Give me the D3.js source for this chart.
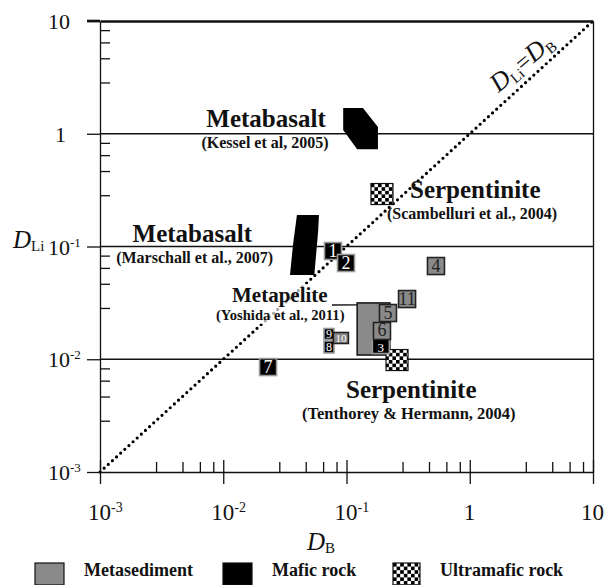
<!DOCTYPE html>
<html lang="en">
<head>
<meta charset="utf-8">
<title>DLi vs DB</title>
<script src="https://d3js.org/d3.v7.min.js"></script>
<style>
body{margin:0;background:#fff;}
svg{font-family:"Liberation Serif","Times New Roman",serif;}
</style>
</head>
<body>
<div id="chart"></div>
<script>
// axis ticks
var decades = [1e-3, 1e-2, 1e-1, 1, 10]
var minorSteps = [2.85, 4.67, 6.46, 8.3]
var refLines = [1, 0.1, 0.01]

// numbered sample boxes
var boxLabels = ["1", "2", "7", "9", "8", "10", "11", "4", "3", "6", "5"]
var boxDB = [0.0777, 0.0991, 0.0231, 0.0721, 0.0721, 0.0901, 0.310, 0.532, 0.190, 0.194, 0.217]
var boxDLi = [0.0912, 0.0714, 0.00853, 0.01675, 0.01285, 0.01544, 0.0342, 0.0671, 0.0131, 0.0178, 0.0257]
var boxRock = ["mafic", "mafic", "mafic", "mafic", "mafic", "sed", "sed", "sed", "mafic", "sed", "sed"]

// mafic fields
var kesselDB = [0.094, 0.136, 0.18, 0.18, 0.122, 0.094]
var kesselDLi = [1.69, 1.69, 1.15, 0.73, 0.73, 1.08]
var marschallDB = [0.0396, 0.0598, 0.0588, 0.0548, 0.0348, 0.0368]
var marschallDLi = [0.19, 0.19, 0.1345, 0.0559, 0.0559, 0.103]

// metapelite field
var yoshidaDB = [0.122, 0.225]
var yoshidaDLi = [0.0109, 0.0316]

// serpentinite points
var serpDB = [0.194, 0.257]
var serpDLi = [0.292, 0.00984]

var legendNames = ["Metasediment", "Mafic rock", "Ultramafic rock"]

var W = 606, H = 585
var svg = d3.select("#chart").append("svg").attr("width", W).attr("height", H)

var x = d3.scaleLog().domain([1e-3, 10]).range([100, 593])
var y = d3.scaleLog().domain([1e-3, 10]).range([472, 21])

var defs = svg.append("defs")
var pat = defs.append("pattern").attr("id", "checker")
    .attr("patternUnits", "userSpaceOnUse").attr("width", 7.2).attr("height", 7.2)
pat.append("rect").attr("width", 7.2).attr("height", 7.2).attr("fill", "#fff")
pat.append("rect").attr("width", 3.6).attr("height", 3.6).attr("fill", "#000")
pat.append("rect").attr("x", 3.6).attr("y", 3.6).attr("width", 3.6).attr("height", 3.6).attr("fill", "#000")

var minorVals = []
decades.slice(0, -1).forEach(function(d){
  minorSteps.forEach(function(m){ minorVals.push(d * m) })
})

// horizontal reference lines
svg.selectAll(".ref").data(refLines).enter().append("line")
   .attr("x1", x(1e-3)).attr("x2", x(10))
   .attr("y1", function(d){ return y(d) }).attr("y2", function(d){ return y(d) })
   .attr("stroke", "#111").attr("stroke-width", 1.3)

// 1:1 line
svg.append("line")
   .attr("x1", x(1e-3)).attr("y1", y(1e-3))
   .attr("x2", x(10)).attr("y2", y(10))
   .attr("stroke", "#000").attr("stroke-width", 3.2)
   .attr("stroke-linecap", "round").attr("stroke-dasharray", "0 5.6")

function styleAxis(g, w){
  g.style("color", "#111")
  g.selectAll("path, line").attr("stroke-width", w)
}

// bottom axis
var gxb = svg.append("g").attr("transform", "translate(0," + y(1e-3) + ")")
   .call(d3.axisBottom(x).tickValues(decades).tickSize(12).tickSizeOuter(0).tickFormat(""))
styleAxis(gxb, 1.3)
var gxt = svg.append("g").attr("transform", "translate(0," + y(1e-3) + ")")
   .call(d3.axisTop(x).tickValues(decades).tickSize(12).tickSizeOuter(0).tickFormat(""))
gxt.select(".domain").remove()
styleAxis(gxt, 1.3)
var gxm = svg.append("g").attr("transform", "translate(0," + y(1e-3) + ")")
   .call(d3.axisTop(x).tickValues(minorVals).tickSize(10).tickSizeOuter(0).tickFormat(""))
gxm.select(".domain").remove()
styleAxis(gxm, 1.3)

// left axis
var gyl = svg.append("g").attr("transform", "translate(" + x(1e-3) + ",0)")
   .call(d3.axisLeft(y).tickValues(decades).tickSize(13).tickSizeOuter(0).tickFormat(""))
styleAxis(gyl, 1.3)
var gym = svg.append("g").attr("transform", "translate(" + x(1e-3) + ",0)")
   .call(d3.axisRight(y).tickValues(minorVals).tickSize(10).tickSizeOuter(0).tickFormat(""))
gym.select(".domain").remove()
styleAxis(gym, 1.3)

// right and top frame
var gr = svg.append("g").attr("transform", "translate(" + x(10) + ",0)")
   .call(d3.axisRight(y).tickValues([]).tickSizeOuter(0))
styleAxis(gr, 1.3)
var gt = svg.append("g").attr("transform", "translate(0," + y(10) + ")")
   .call(d3.axisTop(x).tickValues([]).tickSizeOuter(0))
styleAxis(gt, 2.6)
svg.append("line").attr("x1", x(1e-3) - 13).attr("x2", x(1e-3))
   .attr("y1", y(10)).attr("y2", y(10)).attr("stroke", "#111").attr("stroke-width", 2.6)

// tick labels
function powText(t, d, supSize){
  var e = Math.round(Math.log10(d))
  if (e === 0) { t.text("1"); return }
  t.append("tspan").text("10")
  if (e !== 1) t.append("tspan").attr("font-size", supSize).attr("dy", -8).text(String(e))
}
svg.selectAll(".xlab").data(decades).enter().append("text")
   .attr("x", function(d){ return Math.round(Math.log10(d)) === 0 ? x(d) - 6 : x(d) - 12 })
   .attr("y", 520).attr("font-size", 23).attr("fill", "#111")
   .each(function(d){ powText(d3.select(this), d, 14) })
svg.selectAll(".ylab").data(decades).enter().append("text")
   .attr("x", function(d){ return Math.round(Math.log10(d)) === 0 ? 55 : 48 })
   .attr("y", function(d){ return y(d) + 8 }).attr("font-size", 22).attr("fill", "#111")
   .each(function(d){ powText(d3.select(this), d, 13) })

// axis titles
var xt = svg.append("text").attr("x", 307).attr("y", 550).attr("fill", "#111")
xt.append("tspan").attr("font-style", "italic").attr("font-size", 25).text("D")
xt.append("tspan").attr("font-size", 15).attr("dy", 3).text("B")
var yt = svg.append("text").attr("x", 13).attr("y", 248).attr("fill", "#111")
yt.append("tspan").attr("font-style", "italic").attr("font-size", 25).text("D")
yt.append("tspan").attr("font-size", 15).attr("dy", 3).text("Li")

// 1:1 label
var dl = svg.append("text").attr("text-anchor", "middle").attr("fill", "#111")
   .attr("transform", "translate(527,69) rotate(-40)")
dl.append("tspan").attr("font-style", "italic").attr("font-size", 26).text("D")
dl.append("tspan").attr("font-size", 15).attr("dy", 4).text("Li")
dl.append("tspan").attr("font-size", 24).attr("dy", -4).text("=")
dl.append("tspan").attr("font-style", "italic").attr("font-size", 26).text("D")
dl.append("tspan").attr("font-size", 15).attr("dy", 4).text("B")

// mafic polygons
function poly(xs, ys){
  return xs.map(function(v, i){ return x(v) + "," + y(ys[i]) }).join(" ")
}
svg.append("polygon").attr("points", poly(kesselDB, kesselDLi)).attr("fill", "#000")
svg.append("polygon").attr("points", poly(marschallDB, marschallDLi)).attr("fill", "#000")

// annotations
svg.append("rect").attr("x", 214).attr("y", 284).attr("width", 132).attr("height", 40)
   .attr("fill", "#fff").attr("opacity", 0.65)

var lk = svg.append("g").attr("fill", "#111").attr("font-weight", "bold").attr("text-anchor", "middle")
lk.append("text").attr("x", 266).attr("y", 127).attr("font-size", 25).text("Metabasalt")
lk.append("text").attr("x", 265).attr("y", 148).attr("font-size", 16).text("(Kessel et al, 2005)")

var lm = svg.append("g").attr("fill", "#111").attr("font-weight", "bold").attr("text-anchor", "end")
lm.append("text").attr("x", 252).attr("y", 242).attr("font-size", 25).text("Metabasalt")
lm.append("text").attr("x", 273).attr("y", 263).attr("font-size", 16).text("(Marschall et al., 2007)")

var ls = svg.append("g").attr("fill", "#111").attr("font-weight", "bold").attr("text-anchor", "start")
ls.append("text").attr("x", 410).attr("y", 198).attr("font-size", 25).text("Serpentinite")
ls.append("text").attr("x", 387).attr("y", 219).attr("font-size", 16).text("(Scambelluri et al., 2004)")

var ly = svg.append("g").attr("fill", "#111").attr("font-weight", "bold").attr("text-anchor", "start")
ly.append("text").attr("x", 232).attr("y", 302).attr("font-size", 21).text("Metapelite")
ly.append("text").attr("x", 216).attr("y", 320).attr("font-size", 14.6).text("(Yoshida et al., 2011)")

var lt = svg.append("g").attr("fill", "#111").attr("font-weight", "bold").attr("text-anchor", "start")
lt.append("text").attr("x", 346).attr("y", 398).attr("font-size", 25).text("Serpentinite")
lt.append("text").attr("x", 302).attr("y", 419).attr("font-size", 16.5).text("(Tenthorey & Hermann, 2004)")

// leader line to metapelite field
svg.append("line").attr("x1", 332).attr("y1", 305).attr("x2", x(yoshidaDB[0])).attr("y2", y(yoshidaDLi[1]) + 2)
   .attr("stroke", "#111").attr("stroke-width", 1.4)

// metapelite field
svg.append("rect")
   .attr("x", x(yoshidaDB[0])).attr("y", y(yoshidaDLi[1]))
   .attr("width", x(yoshidaDB[1]) - x(yoshidaDB[0]))
   .attr("height", y(yoshidaDLi[0]) - y(yoshidaDLi[1]))
   .attr("fill", "#8a8a8a").attr("stroke", "#111").attr("stroke-width", 1.5)

// serpentinite squares
svg.selectAll(".serp").data(serpDB).enter().append("rect")
   .attr("x", function(d){ return x(d) - 11 })
   .attr("y", function(d, i){ return y(serpDLi[i]) - 10.5 })
   .attr("width", 22).attr("height", 21)
   .attr("fill", "url(#checker)").attr("stroke", "#111").attr("stroke-width", 1.2)

// numbered boxes: [width, height, font size, baseline offset]
var boxStyle = {"8": [10, 12, 12, 4.2], "9": [10, 11, 12, 4.2], "10": [15, 11, 11, 3.9],
                "3": [17, 15, 13, 5.5], "6": [17, 17, 18, 5.2]}
function bs(d, k, def){ return boxStyle[d] ? boxStyle[d][k] : def }
var boxes = svg.selectAll(".box").data(boxLabels).enter().append("g")
   .attr("transform", function(d, i){ return "translate(" + x(boxDB[i]) + "," + y(boxDLi[i]) + ")" })
boxes.append("rect")
   .attr("x", function(d){ return -bs(d, 0, 17) / 2 })
   .attr("y", function(d){ return -bs(d, 1, 17) / 2 })
   .attr("width", function(d){ return bs(d, 0, 17) })
   .attr("height", function(d){ return bs(d, 1, 17) })
   .attr("fill", function(d, i){ return boxRock[i] === "mafic" ? "#000" : "#8a8a8a" })
   .attr("stroke", function(d, i){ return boxRock[i] === "mafic" ? "#9a9a9a" : "#222" })
   .attr("stroke-width", 1.6)
boxes.append("text")
   .attr("text-anchor", "middle")
   .attr("y", function(d){ return bs(d, 3, 6) })
   .attr("font-size", function(d){ return bs(d, 2, 18) })
   .attr("fill", function(d, i){ return boxRock[i] === "mafic" || d === "10" ? "#fff" : "#222" })
   .text(function(d){ return d })

// legend
var legX = [35, 223, 393]
var legFill = ["#8a8a8a", "#000", "url(#checker)"]
var leg = svg.selectAll(".leg").data(legendNames).enter().append("g")
   .attr("transform", function(d, i){ return "translate(" + legX[i] + ",563)" })
leg.append("rect").attr("width", function(d, i){ return i === 2 ? 27 : 29 }).attr("height", 22)
   .attr("fill", function(d, i){ return legFill[i] }).attr("stroke", "#111").attr("stroke-width", 1.2)
leg.append("text").attr("x", function(d, i){ return i === 2 ? 47 : 49 }).attr("y", 13)
   .attr("font-size", 18).attr("font-weight", "bold").attr("fill", "#111")
   .text(function(d){ return d })
</script>
</body>
</html>
